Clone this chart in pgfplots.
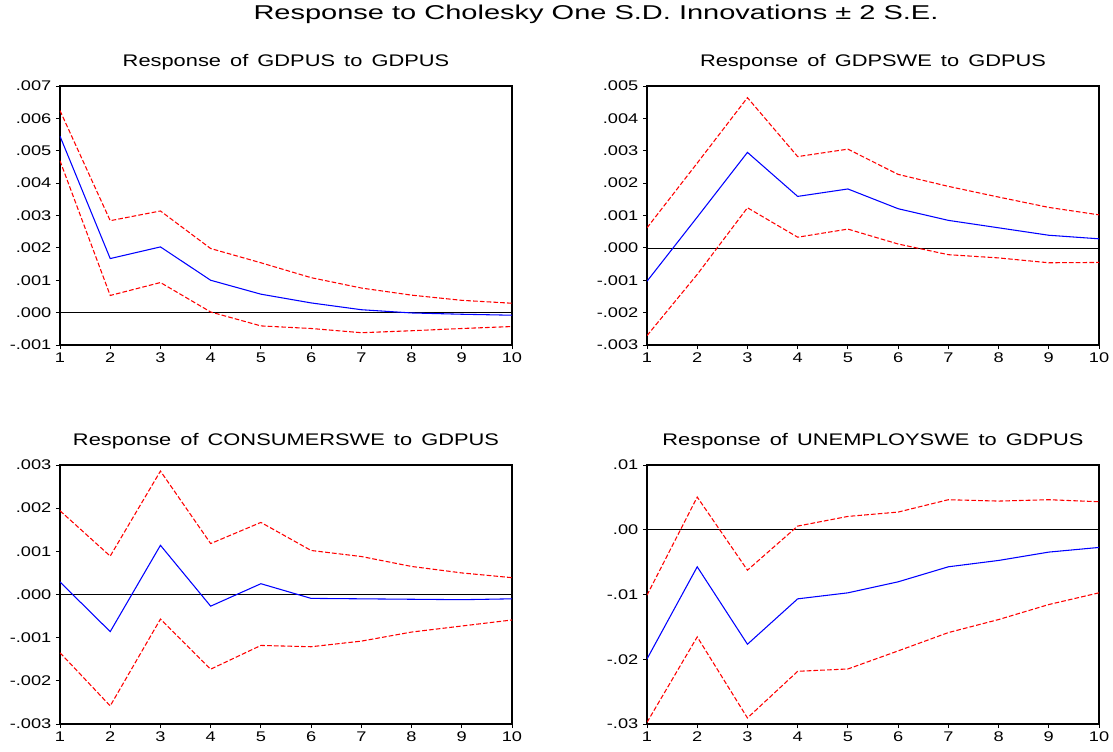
\documentclass[border=0pt]{standalone}
\usepackage{pgfplots}
\pgfplotsset{compat=1.18}
\usepackage{fontspec}
\setmainfont{Liberation Sans}
\newfontfamily\tickfont[FakeStretch=1.3]{Liberation Sans}
\newfontfamily\subfont[FakeStretch=1.3,WordSpace=1.5]{Liberation Sans}
\newfontfamily\titlefont[FakeStretch=1.45]{Liberation Sans}

\pgfplotsset{irf/.style={
  scale only axis, width=339pt, height=194.25pt,
  xmin=1, xmax=10, xtick={1,2,...,10},
  scaled y ticks=false,
  tick align=outside, tick pos=left,
  major tick length=3pt,
  axis line style={line width=1.1pt},
  every tick/.style={black, line width=0.6pt},
  ticklabel style={font=\tickfont\fontsize{10.5}{12}\selectfont},
  /pgf/number format/assume math mode=true,
  title style={font=\subfont\fontsize{12.6}{14}\selectfont, at={(0.5,1)}, anchor=center, yshift=12pt},
  xticklabel style={yshift=1pt},
},
zero/.style={black, line width=0.5pt, forget plot},
mid/.style={blue, line width=0.8pt, no markers},
band/.style={red, line width=0.8pt, no markers, dash pattern=on 3.5pt off 1.6pt},
}

\begin{document}
\begin{tikzpicture}
\path[use as bounding box] (0,0) rectangle (834.75pt,563.25pt);

\node[font=\titlefont\fontsize{15}{17}\selectfont] at (447pt,552.5pt) {Response to Cholesky One S.D. Innovations ± 2 S.E.};

% Panel 1
\begin{axis}[irf, at={(45pt,304.5pt)}, anchor=south west,
  title={Response of GDPUS to GDPUS},
  ymin=-0.001, ymax=0.007,
  ytick={-0.001,0,0.001,0.002,0.003,0.004,0.005,0.006,0.007},
  yticklabels={-.001,.000,.001,.002,.003,.004,.005,.006,.007}]
\addplot[zero] coordinates {(1,0) (10,0)};
\addplot[band] coordinates {(1,0.00624) (2,0.00284) (3,0.00314) (4,0.00198) (5,0.00154) (6,0.00108) (7,0.00076) (8,0.00054) (9,0.00038) (10,0.00029)};
\addplot[band] coordinates {(1,0.00469) (2,0.00053) (3,0.00093) (4,0.00002) (5,-0.00041) (6,-0.00049) (7,-0.00062) (8,-0.00056) (9,-0.00049) (10,-0.00043)};
\addplot[mid] coordinates {(1,0.00545) (2,0.00167) (3,0.00203) (4,0.00100) (5,0.00057) (6,0.00030) (7,0.00009) (8,-0.00001) (9,-0.00005) (10,-0.00008)};
\end{axis}

% Panel 2
\begin{axis}[irf, at={(485.25pt,304.5pt)}, anchor=south west,
  title={Response of GDPSWE to GDPUS},
  ymin=-0.003, ymax=0.005,
  ytick={-0.003,-0.002,-0.001,0,0.001,0.002,0.003,0.004,0.005},
  yticklabels={-.003,-.002,-.001,.000,.001,.002,.003,.004,.005}]
\addplot[zero] coordinates {(1,0) (10,0)};
\addplot[band] coordinates {(1,0.00062) (2,0.00262) (3,0.00464) (4,0.00282) (5,0.00305) (6,0.00227) (7,0.00190) (8,0.00157) (9,0.00125) (10,0.00102)};
\addplot[band] coordinates {(1,-0.00271) (2,-0.00082) (3,0.00124) (4,0.00033) (5,0.00058) (6,0.00012) (7,-0.00021) (8,-0.00031) (9,-0.00046) (10,-0.00045)};
\addplot[mid] coordinates {(1,-0.00103) (2,0.00095) (3,0.00295) (4,0.00159) (5,0.00182) (6,0.00121) (7,0.00085) (8,0.00062) (9,0.00039) (10,0.00028)};
\end{axis}

% Panel 3
\begin{axis}[irf, at={(45pt,20.25pt)}, anchor=south west,
  title={Response of CONSUMERSWE to GDPUS},
  ymin=-0.003, ymax=0.003,
  ytick={-0.003,-0.002,-0.001,0,0.001,0.002,0.003},
  yticklabels={-.003,-.002,-.001,.000,.001,.002,.003}]
\addplot[zero] coordinates {(1,0) (10,0)};
\addplot[band] coordinates {(1,0.00194) (2,0.00089) (3,0.00286) (4,0.00118) (5,0.00167) (6,0.00102) (7,0.00088) (8,0.00065) (9,0.00050) (10,0.00039)};
\addplot[band] coordinates {(1,-0.00135) (2,-0.00258) (3,-0.00057) (4,-0.00173) (5,-0.00118) (6,-0.00121) (7,-0.00108) (8,-0.00087) (9,-0.00073) (10,-0.00059)};
\addplot[mid] coordinates {(1,0.00029) (2,-0.00086) (3,0.00114) (4,-0.00027) (5,0.00025) (6,-0.00009) (7,-0.00010) (8,-0.00011) (9,-0.00012) (10,-0.00010)};
\end{axis}

% Panel 4
\begin{axis}[irf, at={(485.25pt,20.25pt)}, anchor=south west,
  title={Response of UNEMPLOYSWE to GDPUS},
  ymin=-0.03, ymax=0.01,
  ytick={-0.03,-0.02,-0.01,0,0.01},
  yticklabels={-.03,-.02,-.01,.00,.01}]
\addplot[zero] coordinates {(1,0) (10,0)};
\addplot[band] coordinates {(1,-0.0101) (2,0.00505) (3,-0.00624) (4,0.00057) (5,0.00206) (6,0.00273) (7,0.00464) (8,0.00443) (9,0.00464) (10,0.00433)};
\addplot[band] coordinates {(1,-0.02974) (2,-0.01655) (3,-0.02907) (4,-0.02186) (5,-0.0215) (6,-0.01871) (7,-0.01588) (8,-0.01387) (9,-0.01155) (10,-0.00974)};
\addplot[mid] coordinates {(1,-0.01995) (2,-0.00572) (3,-0.01768) (4,-0.01067) (5,-0.00974) (6,-0.00804) (7,-0.00572) (8,-0.00474) (9,-0.00345) (10,-0.00273)};
\end{axis}
\end{tikzpicture}
\end{document}
